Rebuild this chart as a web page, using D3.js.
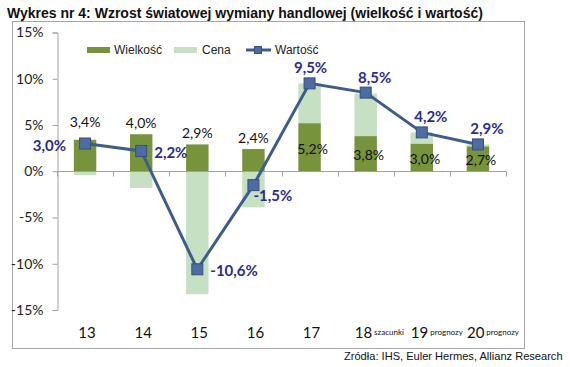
<!DOCTYPE html>
<html>
<head>
<meta charset="utf-8">
<script src="https://cdn.jsdelivr.net/npm/d3@7"></script>
<style>
  body { margin: 0; background: #fff; }
  svg { display: block; }
</style>
</head>
<body>
<div id="chart"></div>
<script>
// data
var categories = ['13', '14', '15', '16', '17', '18', '19', '20'];
var catNotes = ['', '', '', '', '', 'szacunki', 'prognozy', 'prognozy'];
var wielkosc = [3.4, 4.0, 2.9, 2.4, 5.2, 3.8, 3.0, 2.7];
var cena = [-0.4, -1.8, -13.3, -3.9, 4.3, 4.6, 1.2, 0.2];
var wartosc = [3.0, 2.2, -10.6, -1.5, 9.5, 8.5, 4.2, 2.9];
var yTicks = [15, 10, 5, 0, -5, -10, -15];
var seriesNames = ['Wielkość', 'Cena', 'Wartość'];

var W = 570, H = 367;
var darkGreen = '#77933c', lightGreen = '#c5e0c2', lineBlue = '#3e5c8c',
    markFill = '#4c6ca2', navy = '#2b2d8f';
var calibri = 'Lato, "Open Sans", sans-serif';

var svg = d3.select('#chart').append('svg')
  .attr('width', W).attr('height', H);

// Excel style: comma decimal, plain hyphen for minus
var fmt = function(v) {
  return d3.format('.1f')(v).replace('.', ',').replace('\u2212', '-') + '%';
};

// title
var title = svg.append('text')
  .attr('x', 7).attr('y', 13)
  .attr('dominant-baseline', 'central')
  .style('font-family', '"Liberation Sans", Arial, sans-serif')
  .style('font-weight', 'bold')
  .style('font-size', '16px')
  .style('fill', '#111')
  .text('Wykres nr 4: Wzrost światowej wymiany handlowej (wielkość i wartość)');
var tl = title.node().getComputedTextLength();
title.style('font-size', (16 * 476 / tl) + 'px');

// frame
svg.append('rect')
  .attr('x', 12.5).attr('y', 21.5)
  .attr('width', 512).attr('height', 327)
  .attr('fill', 'none').attr('stroke', '#a6a6a6');

var x = d3.scaleBand().domain(categories).range([57, 506]);
var y = d3.scaleLinear().domain([-15, 15]).range([310, 32.5]);
var barW = x.bandwidth() * 0.4;
var cx = function(i) { return x(categories[i]) + x.bandwidth() / 2; };

// y axis
var yAxis = svg.append('g')
  .attr('transform', 'translate(57.5,0)')
  .call(d3.axisLeft(y).tickValues(yTicks).tickSize(5).tickFormat(function(d) { return d + '%'; }));
yAxis.select('.domain').attr('stroke', '#a0a0a0');
yAxis.selectAll('.tick line').attr('stroke', '#a0a0a0');
yAxis.selectAll('.tick text')
  .attr('x', -14)
  .style('font-family', calibri).style('font-size', '14px').style('fill', '#222');

// bars: Wielkość
svg.append('g').selectAll('rect')
  .data(wielkosc).join('rect')
  .attr('x', function(d, i) { return cx(i) - barW / 2; })
  .attr('y', function(d) { return y(d); })
  .attr('width', barW)
  .attr('height', function(d) { return y(0) - y(d); })
  .attr('fill', darkGreen);

// bars: Cena (stacked on top when positive, from zero when negative)
svg.append('g').selectAll('rect')
  .data(cena).join('rect')
  .attr('x', function(d, i) { return cx(i) - barW / 2; })
  .attr('y', function(d, i) { return d >= 0 ? y(wielkosc[i] + d) : y(0); })
  .attr('width', barW)
  .attr('height', function(d) { return Math.abs(y(0) - y(d)); })
  .attr('fill', lightGreen);

// x axis at zero
var xAxis = svg.append('g')
  .attr('transform', 'translate(0,' + (Math.round(y(0)) + 0.5) + ')');
xAxis.append('line')
  .attr('x1', 57).attr('x2', 506)
  .attr('stroke', '#a0a0a0');
xAxis.selectAll('line.tk')
  .data(categories.concat(['end'])).join('line')
  .attr('class', 'tk')
  .attr('x1', function(d, i) { return Math.round(57 + i * x.bandwidth()) + 0.5; })
  .attr('x2', function(d, i) { return Math.round(57 + i * x.bandwidth()) + 0.5; })
  .attr('y1', 0).attr('y2', 5)
  .attr('stroke', '#a0a0a0');

// category labels
var cat = svg.append('g').selectAll('text')
  .data(categories).join('text')
  .attr('y', 332)
  .attr('dominant-baseline', 'central')
  .style('font-family', calibri).style('fill', '#111');
cat.each(function(d, i) {
  var t = d3.select(this);
  if (catNotes[i]) {
    t.attr('x', cx(i) - 11).attr('text-anchor', 'start');
    t.append('tspan').style('font-size', '15px').text(d);
    t.append('tspan').attr('dx', 2).style('font-size', '8px').text(catNotes[i]);
  } else {
    t.attr('x', cx(i) + 2).attr('text-anchor', 'middle').style('font-size', '15px').text(d);
  }
});

// Wielkość labels
svg.append('g').selectAll('text')
  .data(wielkosc).join('text')
  .attr('x', function(d, i) { return cx(i) + (cena[i] > 0 ? 3 : 0); })
  .attr('y', function(d, i) {
    if (cena[i] > 0) return y(d / 2) + 1;
    return y(d) - (i === 0 ? 18 : 12);
  })
  .attr('text-anchor', 'middle')
  .attr('dominant-baseline', 'central')
  .style('font-family', calibri).style('font-size', '14px').style('fill', '#111')
  .text(fmt);

// Wartość line
var line = d3.line()
  .x(function(d, i) { return cx(i); })
  .y(function(d) { return y(d); });
svg.append('path')
  .datum(wartosc)
  .attr('d', line)
  .attr('fill', 'none')
  .attr('stroke', lineBlue)
  .attr('stroke-width', 3);

var ms = 11;
svg.append('g').selectAll('rect')
  .data(wartosc).join('rect')
  .attr('x', function(d, i) { return cx(i) - ms / 2; })
  .attr('y', function(d) { return y(d) - ms / 2; })
  .attr('width', ms).attr('height', ms)
  .attr('fill', markFill)
  .attr('stroke', '#34507e').attr('stroke-width', 1);

// Wartość labels
var place = ['left', 'right', 'right', 'below', 'above', 'above', 'above', 'above'];
svg.append('g').selectAll('text')
  .data(wartosc).join('text')
  .attr('x', function(d, i) {
    if (place[i] === 'left') return cx(i) - 19;
    if (place[i] === 'right') return cx(i) + 13;
    if (place[i] === 'below') return cx(i);
    return cx(i) + (i === 4 ? 1 : 9);
  })
  .attr('y', function(d, i) {
    if (place[i] === 'below') return y(d) + 10;
    if (place[i] === 'above') return y(d) - 16;
    return y(d) + 1;
  })
  .attr('text-anchor', function(d, i) {
    return place[i] === 'left' ? 'end' : (place[i] === 'above' ? 'middle' : 'start');
  })
  .attr('dominant-baseline', 'central')
  .style('font-family', calibri).style('font-size', '15px').style('font-weight', 'bold')
  .style('fill', navy)
  .text(fmt);

// legend
var lg = svg.append('g')
  .style('font-family', '"Liberation Sans", Arial, sans-serif')
  .style('font-size', '12px').style('fill', '#222');
lg.append('rect').attr('x', 87).attr('y', 47).attr('width', 23).attr('height', 6).attr('fill', darkGreen);
lg.append('rect').attr('x', 174).attr('y', 47).attr('width', 23).attr('height', 6).attr('fill', lightGreen);
lg.append('line').attr('x1', 246).attr('x2', 271).attr('y1', 50).attr('y2', 50)
  .attr('stroke', lineBlue).attr('stroke-width', 3);
lg.append('rect').attr('x', 254.5).attr('y', 46.5).attr('width', 7).attr('height', 7)
  .attr('fill', markFill).attr('stroke', '#34507e');
lg.selectAll('text')
  .data(seriesNames).join('text')
  .attr('x', function(d, i) { return [114, 202, 275][i]; })
  .attr('y', 50)
  .attr('dominant-baseline', 'central')
  .text(function(d) { return d; });

// source
var src = svg.append('text')
  .attr('x', 344).attr('y', 356)
  .attr('dominant-baseline', 'central')
  .style('font-family', '"Liberation Sans", Arial, sans-serif')
  .style('font-size', '12.5px').style('fill', '#111')
  .text('Zródła: IHS, Euler Hermes, Allianz Research');
var sl = src.node().getComputedTextLength();
src.style('font-size', (12.5 * 219 / sl) + 'px');
</script>
</body>
</html>
